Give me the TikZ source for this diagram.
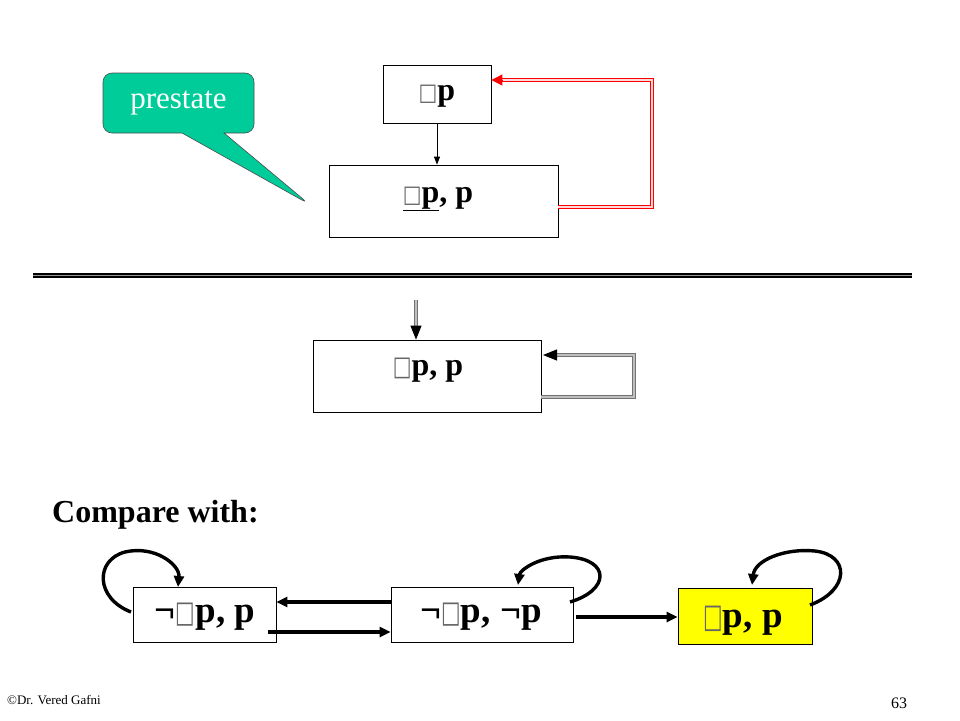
\documentclass[tikz,border=0pt]{standalone}
\usepackage{fontspec}
\setmainfont{Liberation Serif}
\newfontfamily\djv{DejaVu Sans}
\usetikzlibrary{arrows.meta,shapes.callouts}
\newcommand{\bxg}[2]{{\djv\mdseries\textcolor{black!60}{\scalebox{#1}[#2]{□}}}}
\definecolor{callgreen}{RGB}{0,204,153}
\definecolor{stateyellow}{RGB}{255,255,0}
\tikzset{
  sbox/.style={draw=black, line width=0.8pt, inner sep=0pt},
  toptext/.style={font=\fontsize{32}{34}\selectfont\bfseries, inner sep=0pt, anchor=base},
  bottext/.style={font=\fontsize{37}{39}\selectfont\bfseries, inner sep=0pt, anchor=base},
  redd/.style={draw=red, line width=0.9pt, double=red!15, double distance=1.8pt},
  grayd/.style={draw=black!55, line width=1pt, double=black!25, double distance=1.8pt},
  thickarr/.style={line width=3.4pt, -{Triangle[length=11pt,width=10pt]}},
  loop/.style={line width=3.4pt, -{Triangle[length=11pt,width=10pt]}},
}
\begin{document}
\begin{tikzpicture}[x=1pt,y=-1pt]
\useasboundingbox (0,0) rectangle (960,720);
% top part
\node[sbox, minimum width=108, minimum height=58] (t1) at (437,94) {};
\node[toptext] (t1t) at (437,100) {\bxg{0.62}{0.75}p};
\node[sbox, minimum width=229, minimum height=72] (t2) at (443.5,201) {};
\node[toptext] (t2t) at (438,202) {\underline{\bxg{0.62}{0.75}p}, p};
\draw[line width=0.8pt, -{Triangle[length=8pt,width=6pt]}] (t1.south) -- (t1.south |- t2.north);
% red double loop
\coordinate (r1) at (652,207);
\coordinate (r2) at (652,80);
\coordinate (r3) at (502,80);
\draw[redd] (t2.east |- r1) -- (r1) -- (r2) -- (r3);
\draw[red, line width=1pt, -{Triangle[length=11pt,width=11pt]}] (r3) -- (t1.east |- r3);
% callout
\node[rectangle callout, rounded corners=9pt, draw=black!70, line width=0.6pt, fill=callgreen,
      minimum width=151, minimum height=60, callout absolute pointer={(309,204)},
      callout pointer width=42pt, text=white, font=\fontsize{31}{32}\selectfont, inner sep=0pt]
      (cal) at (178.5,103) {prestate};
% separator
\coordinate (s1) at (33,275.5);
\coordinate (s2) at (912,275.5);
\draw[draw=black, line width=1.3pt, double=black!40, double distance=1.6pt] (s1) -- (s2);
% middle
\node[sbox, minimum width=228, minimum height=72] (m1) at (427,376) {};
\node[toptext] (m1t) at (428,375) {\bxg{0.62}{0.85}p, p};
\coordinate (d0) at (416,300);
\coordinate (d1) at (416,326);
\draw[grayd] (d0) -- (d1);
\draw[black, line width=1pt, -{Triangle[length=14pt,width=11pt]}] (d1) -- (d1 |- m1.north);
\coordinate (g1) at (634,397);
\coordinate (g2) at (634,355);
\coordinate (g3) at (556,355);
\draw[grayd] (m1.east |- g1) -- (g1) -- (g2) -- (g3);
\draw[black, line width=1pt, -{Triangle[length=14pt,width=11pt]}] (g3) -- (543,355);
% compare
\node[anchor=west, font=\fontsize{32}{34}\selectfont\bfseries, inner sep=0pt] (cmp) at (52,515) {Compare with:};
% bottom states
\node[sbox, minimum width=143, minimum height=55] (a) at (204.5,614.5) {};
\node[bottext] (at) at (205,622) {¬\bxg{0.56}{0.82}p, p};
\node[sbox, minimum width=182, minimum height=55] (b) at (482,614.5) {};
\node[bottext] (bt) at (481,622) {¬\bxg{0.56}{0.82}p, ¬p};
\node[sbox, fill=stateyellow, minimum width=134, minimum height=56] (c) at (745,616) {};
\node[bottext] (ct) at (743,627) {\bxg{0.56}{0.9}p, p};
\draw[thickarr] (b.west |- 0,602) -- (a.east |- 0,602);
\draw[thickarr] (268,632) -- (b.west |- 0,632);
\draw[thickarr] (576,617) -- (c.west |- 0,617);
% self loops
\draw[loop] (131,612) .. controls (95,598) and (95,560) .. (125,552) .. controls (155,545) and (180,565) .. (178,587);
\draw[loop] (570,602) .. controls (610,590) and (610,560) .. (570,557) .. controls (540,555) and (520,570) .. (518,585);
\draw[loop] (810,605) .. controls (850,590) and (850,555) .. (815,551) .. controls (785,548) and (755,560) .. (752,585);
% footer
\node[anchor=west, font=\fontsize{13}{14}\selectfont, inner sep=0pt] (foot) at (7,700) {©Dr. Vered Gafni};
\node[anchor=center, font=\fontsize{16}{17}\selectfont, inner sep=0pt] (pg) at (899,703) {63};
\end{tikzpicture}
\end{document}
